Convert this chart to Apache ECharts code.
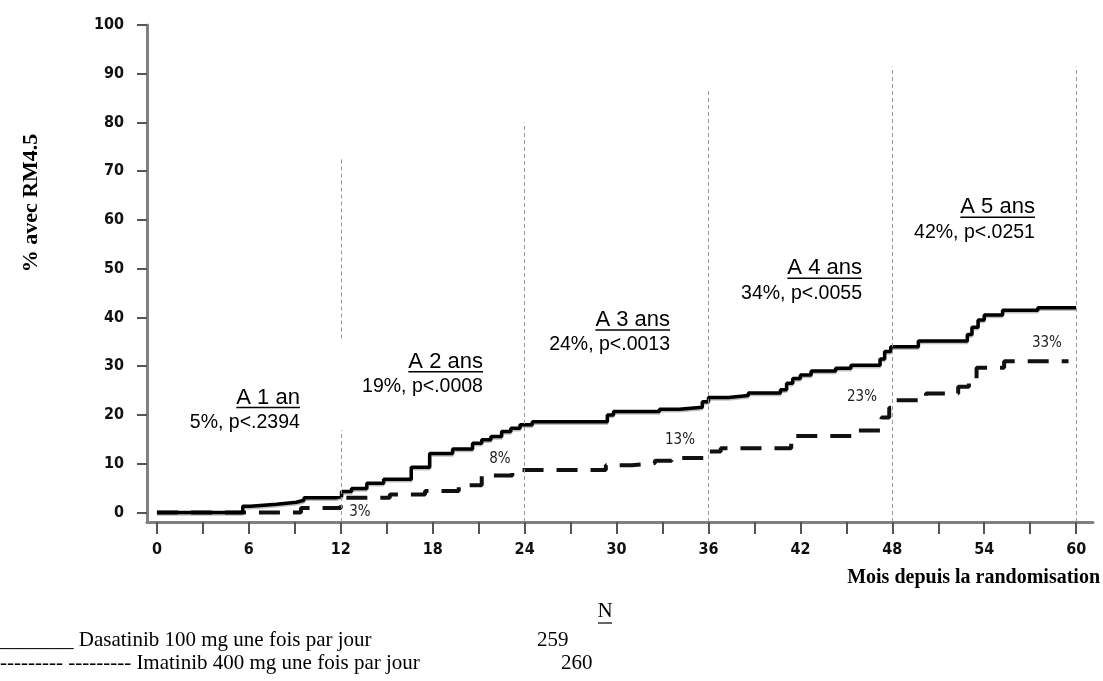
<!DOCTYPE html>
<html><head><meta charset="utf-8">
<script src="https://cdn.jsdelivr.net/npm/echarts@6/dist/echarts.min.js"></script>
<style>html,body{margin:0;padding:0;background:#fff}#c{width:1103px;height:681px}</style>
</head><body><div id="c"></div>
<script>
// ---- data (months, % with MR4.5) ----
const dasatinib = [[0,0],[5.6,1.3],[6.1,1.7],[7.8,2.1],[9.1,2.5],[9.6,3.0],[11.7,3.3],[12.05,4.3],[12.7,4.9],[13.7,6.0],[14.8,6.8],[16.6,9.3],[17.8,12.1],[19.3,13.0],[20.6,14.2],[21.2,14.9],[21.8,15.6],[22.5,16.6],[23.1,17.3],[23.7,18.0],[24.5,18.6],[29.4,20.0],[29.8,20.7],[32.8,21.2],[34.1,21.6],[35.6,22.7],[36.0,23.6],[37.3,24.0],[38.6,24.5],[40.7,25.2],[41.1,26.5],[41.5,27.5],[42.0,28.2],[42.7,29.0],[44.3,29.6],[45.3,30.2],[47.2,31.5],[47.5,33.0],[47.9,34.0],[49.7,35.2],[52.9,36.5],[53.2,38.0],[53.6,39.5],[54.0,40.5],[55.2,41.5],[57.5,42.0],[60.0,42.0]];
const imatinib = [[0,0],[9.4,0.9],[12.0,3.0],[15.2,3.7],[17.5,4.4],[19.7,5.6],[21.2,7.6],[23.2,8.7],[29.3,9.7],[31.0,10.1],[32.5,10.6],[33.6,11.2],[35.8,12.5],[36.8,13.2],[41.4,15.7],[45.5,16.8],[47.3,19.5],[47.8,21.5],[48.2,23.0],[50.2,24.4],[52.3,25.8],[53.0,27.5],[53.5,29.7],[55.3,31.0],[59.5,31.0]];
const xTickValues = [0,3,6,9,12,15,18,21,24,27,30,33,36,39,42,45,48,51,54,57,60];
const xLabelValues = [0,6,12,18,24,30,36,42,48,54,60];
const yTickValues = [0,10,20,30,40,50,60,70,80,90,100];
const refSegments = [[12,-1.95,16.9],[12,35.7,73],[24,-1.95,80],[36,-1.95,87],[48,-1.95,91.5],[60,-1.95,91.5]];
const annoTitles = ['A 1 an','A 2 ans','A 3 ans','A 4 ans','A 5 ans'];
const annoStats = ['5%, p<.2394','19%, p<.0008','24%, p<.0013','34%, p<.0055','42%, p<.0251'];
const annoX = [9.33,21.28,33.49,46.02,57.31];
const annoY = [23.6,30.9,39.5,50.1,62.6];
const pctLabels = ['3%','8%','13%','23%','33%'];
const pctX = [13.25,22.39,34.14,46.02,58.09];
const pctY = [0.1,11.0,14.9,23.7,34.8];
const legendNames = ['_______ Dasatinib 100 mg une fois par jour','--------- --------- Imatinib 400 mg une fois par jour'];
const legendN = ['259','260'];

const mctx = document.createElement('canvas').getContext('2d');
function textW(t, size, fam){ mctx.font = size + 'px ' + fam; return mctx.measureText(t).width; }
const tickFont = '"Liberation Sans Narrow", "DejaVu Sans Condensed", sans-serif';
const annoFont = '"Liberation Sans", Arial, sans-serif';
const serif = '"Liberation Serif", "Times New Roman", serif';

const chart = echarts.init(document.getElementById('c'), null, {renderer:'canvas'});
chart.setOption({
  animation:false,
  backgroundColor:'#fff',
  grid:{left:147,right:10,top:25,bottom:159},
  xAxis:{type:'value',min:-0.65,max:61.1,
    axisLine:{show:true,onZero:false,lineStyle:{color:'#808080',width:3}},
    axisTick:{show:true,customValues:xTickValues,length:12,lineStyle:{color:'#555',width:2}},
    axisLabel:{customValues:xLabelValues,margin:20,color:'#111',fontSize:16,fontWeight:'bold',fontFamily:tickFont},
    splitLine:{show:false}},
  yAxis:{type:'value',min:-1.95,max:100,
    axisLine:{show:true,onZero:false,lineStyle:{color:'#808080',width:3}},
    axisTick:{show:true,customValues:yTickValues,length:10,lineStyle:{color:'#555',width:2}},
    axisLabel:{customValues:yTickValues,margin:23,color:'#111',fontSize:16,fontWeight:'bold',fontFamily:tickFont},
    splitLine:{show:false}},
  series:[
    {type:'line',name:'Dasatinib',step:'end',data:dasatinib,showSymbol:false,z:4,
      lineStyle:{color:'#000',width:3.5,shadowColor:'rgba(0,0,0,0.25)',shadowOffsetY:1.5},
      markLine:{silent:true,symbol:'none',label:{show:false},
        lineStyle:{color:'#999',type:[4,3],width:1},
        data:refSegments.map(s=>[{coord:[s[0],s[1]]},{coord:[s[0],s[2]]}])}},
    {type:'line',name:'Imatinib',step:'end',data:imatinib,showSymbol:false,z:3,
      lineStyle:{color:'#111',width:4,type:[21,13]}},
    {type:'custom',silent:true,z:6,clip:false,
      data:annoX.map((x,i)=>[x,annoY[i],i]),
      renderItem:function(params,api){
        const i=api.value(2);
        const p=api.coord([api.value(0),api.value(1)]);
        const w=textW(annoTitles[i],22,annoFont);
        return {type:'group',children:[
          {type:'text',x:p[0],y:p[1],style:{text:annoTitles[i],fontSize:22,fontFamily:annoFont,fill:'#000',align:'right',verticalAlign:'middle'}},
          {type:'line',shape:{x1:p[0]-w,y1:p[1]+10,x2:p[0],y2:p[1]+10},style:{stroke:'#000',lineWidth:1.5}},
          {type:'text',x:p[0],y:p[1]+25,style:{text:annoStats[i],fontSize:19.5,fontFamily:annoFont,fill:'#000',align:'right',verticalAlign:'middle'}}
        ]};
      }},
    {type:'custom',silent:true,z:6,clip:false,
      data:pctX.map((x,i)=>[x,pctY[i],i]),
      renderItem:function(params,api){
        const i=api.value(2);
        const p=api.coord([api.value(0),api.value(1)]);
        return {type:'text',x:p[0],y:p[1],style:{text:pctLabels[i],fontSize:15,fontFamily:tickFont,fill:'#222',align:'center',verticalAlign:'middle'}};
      }}
  ],
  graphic:[
    {type:'text',x:1100,y:578,style:{text:'Mois depuis la randomisation',fontSize:20,fontWeight:'bold',fontFamily:serif,fill:'#000',align:'right',verticalAlign:'middle'}},
    {type:'text',x:31,y:203,rotation:Math.PI/2,style:{text:'% avec RM4.5',fontSize:22,fontWeight:'bold',fontFamily:serif,fill:'#000',align:'center',verticalAlign:'middle'}},
    {type:'text',x:605,y:611,style:{text:'N',fontSize:21,fontFamily:serif,fill:'#000',align:'center',verticalAlign:'middle'}},
    {type:'line',shape:{x1:598,y1:623,x2:612,y2:623},style:{stroke:'#000',lineWidth:1.2}},
    {type:'text',x:0,y:640,style:{text:legendNames[0],fontSize:21,fontFamily:serif,fill:'#000',align:'left',verticalAlign:'middle'}},
    {type:'text',x:537,y:640,style:{text:legendN[0],fontSize:21,fontFamily:serif,fill:'#000',align:'left',verticalAlign:'middle'}},
    {type:'text',x:0,y:663,style:{text:legendNames[1],fontSize:21,fontFamily:serif,fill:'#000',align:'left',verticalAlign:'middle'}},
    {type:'text',x:561,y:663,style:{text:legendN[1],fontSize:21,fontFamily:serif,fill:'#000',align:'left',verticalAlign:'middle'}}
  ]
});
</script></body></html>
